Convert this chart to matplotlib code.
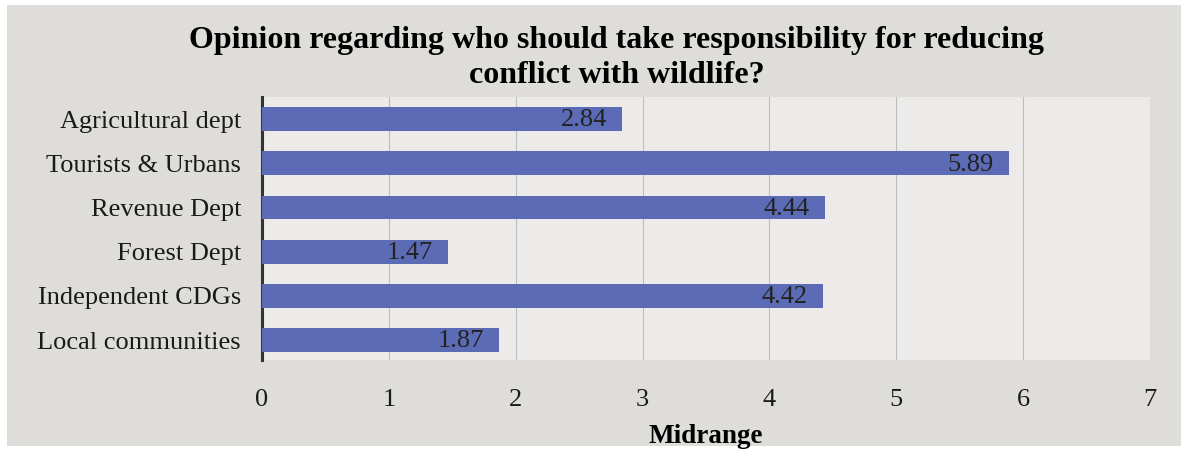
import matplotlib.pyplot as plt
from matplotlib.patches import Rectangle

categories = ["Agricultural dept", "Tourists & Urbans", "Revenue Dept",
              "Forest Dept", "Independent CDGs", "Local communities"]
values = [2.84, 5.89, 4.44, 1.47, 4.42, 1.87]
xticks = [0, 1, 2, 3, 4, 5, 6, 7]

plt.rcParams['font.family'] = ['Liberation Serif', 'DejaVu Serif']

fig = plt.figure(figsize=(11.88, 4.51), dpi=100, facecolor='white')
# scanned page background
fig.patches.append(Rectangle((0.006, 0.012), 0.988, 0.976, transform=fig.transFigure,
                             facecolor='#dfddd9', edgecolor='none', zorder=-10))
ax = fig.add_axes([0.2205, 0.2018, 0.7475, 0.5832])
ax.set_facecolor('#ecebe9')

ypos = list(range(len(categories)))
ax.barh(ypos, values, height=0.54, color='#5b6bb5', zorder=3)
for y, v in zip(ypos, values):
    ax.annotate(f"{v:.2f}", (v, y), xytext=(-11, -1), textcoords='offset points',
                ha='right', va='center', fontsize=19, color='#222222', zorder=4)

ax.set_xlim(0, 7)
ax.set_ylim(5.45, -0.5)
ax.set_xticks(xticks)
ax.set_yticks(ypos)
ax.set_yticklabels(categories, fontsize=19, color='#1a1a1a')
ax.tick_params(axis='x', labelsize=19, colors='#1a1a1a', length=0, pad=21)
ax.tick_params(axis='y', length=0, pad=15)
ax.xaxis.grid(True, color='#bdbdbd', linewidth=0.8, zorder=0)
for s in ['top', 'right', 'bottom']:
    ax.spines[s].set_visible(False)
ax.spines['left'].set_linewidth(2.2)
ax.spines['left'].set_color('#333333')
ax.set_xlabel("Midrange", fontsize=19.5, fontweight='bold', labelpad=9)

fig.text(0.519, 0.871, "Opinion regarding who should take responsibility for reducing\nconflict with wildlife?",
         ha='center', va='center', fontsize=23, fontweight='bold', linespacing=1.3)

fig.savefig("out.png", dpi=100, facecolor=fig.get_facecolor())
